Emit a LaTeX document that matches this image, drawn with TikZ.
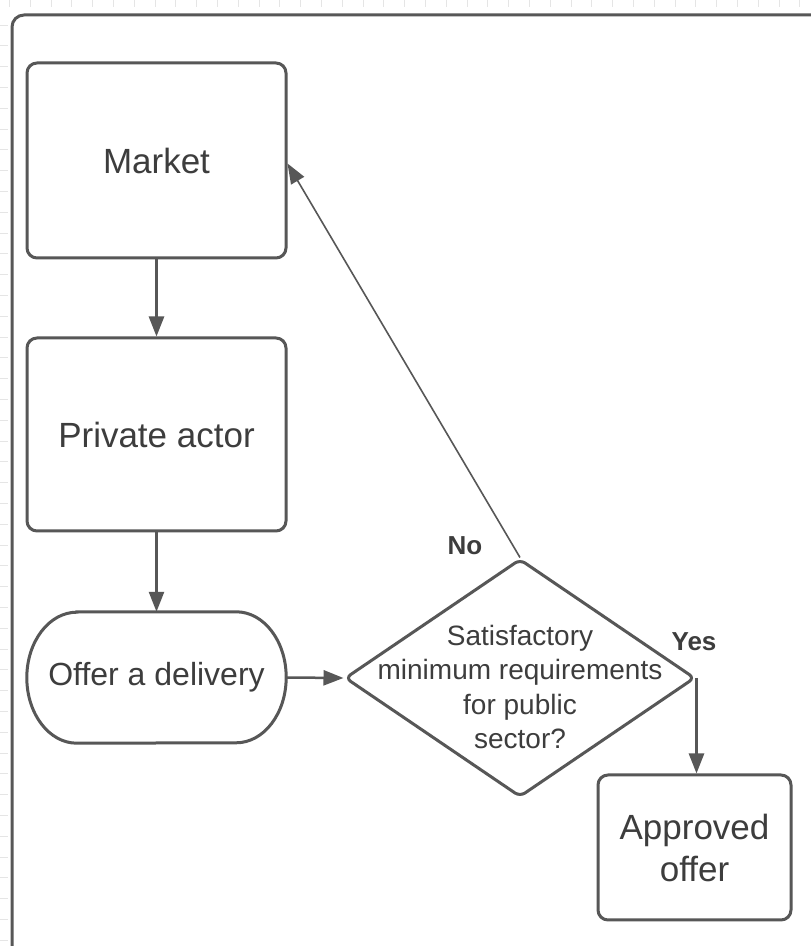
\documentclass[tikz,border=0pt]{standalone}
\usepackage{fontspec}
\setmainfont{Liberation Sans}
\usetikzlibrary{arrows.meta,shapes.geometric}
\definecolor{ln}{HTML}{575757}
\definecolor{tx}{HTML}{3D3D3D}
\begin{document}
\begin{tikzpicture}[x=1pt,y=1pt,
  box/.style={draw=ln,line width=3pt,rounded corners=10pt,fill=white,text=tx,font=\fontsize{35}{42}\selectfont,align=center,inner sep=0pt},
  conn/.style={draw=ln,line width=2.5pt,-{Triangle[length=20pt,width=15pt]}},
  thin/.style={draw=ln,line width=1.6pt,-{Triangle[length=20pt,width=15pt]}},
  lbl/.style={text=tx,font=\fontsize{26}{30}\selectfont\bfseries,inner sep=0pt},
  tick/.style={draw=black!10,line width=0.7pt}]
\useasboundingbox (0,0) rectangle (811,946);
\clip (0,0) rectangle (811,946);
\fill[white] (0,0) rectangle (811,946);
% faint ruler ticks
\foreach \i in {0,...,38} {\draw[tick] (9.3+20.8*\i,946) -- (9.3+20.8*\i,939);}
\foreach \i in {0,...,45} {\draw[tick] (0,921-20.8*\i) -- (8,921-20.8*\i);}
% outer frame
\draw[ln,line width=3pt,rounded corners=12pt] (12,-10) |- (830,931);
% nodes
\node[box,minimum width=259pt,minimum height=195pt] (market) at (156.5,785.5) {Market};
\node[box,minimum width=259pt,minimum height=193pt] (private) at (156.5,511.5) {Private actor};
\node[minimum width=259pt,minimum height=131pt,inner sep=0pt] (offer) at (156.5,268.5) {};
\draw[ln,line width=3pt] ([xshift=50pt]offer.north west) -- ([xshift=-50pt]offer.north east)
  arc[start angle=90,end angle=-90,x radius=50pt,y radius=65.5pt]
  -- ([xshift=50pt]offer.south west)
  arc[start angle=270,end angle=90,x radius=50pt,y radius=65.5pt] -- cycle;
\node[text=tx,font=\fontsize{32}{38}\selectfont,inner sep=0pt] (offertext) at (offer.center) {Offer a delivery};
\node[diamond,draw=ln,line width=3pt,rounded corners=6pt,minimum width=350pt,minimum height=238pt,inner sep=0pt] (dia) at (520,268) {};
\node[text=tx,font=\fontsize{28}{34.5}\selectfont,align=center,inner sep=0pt] (diatext) at (520,259) {Satisfactory\\minimum requirements\\for public\\sector?};
\node[box,minimum width=193pt,minimum height=145pt] (appr) at (694.5,98.5) {Approved\\offer};
% connectors
\draw[conn] (market.south) -- (private.north);
\draw[conn] (private.south) -- (offer.north);
\draw[conn] (offer.east) -- (dia.west);
\draw[conn] (dia.east) -- (dia.east |- appr.north);
\draw[thin] (dia.north) -- ([yshift=-3pt]market.east);
% labels
\node[lbl] (no) at (465,400) {No};
\node[lbl] (yes) at (694,304) {Yes};
\end{tikzpicture}
\end{document}
